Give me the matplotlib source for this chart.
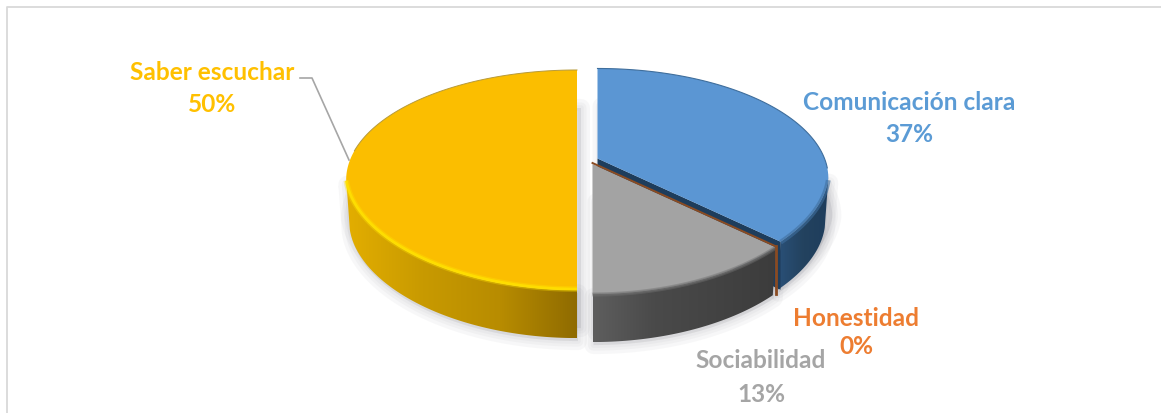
"""Exploded 3-D style pie of the most valued communication skills."""
import numpy as np
import matplotlib
matplotlib.use("Agg")
import matplotlib.pyplot as plt
from matplotlib.colors import LinearSegmentedColormap
from matplotlib.patches import Polygon

W, H = 1161, 413

categories = ["Comunicación clara", "Honestidad", "Sociabilidad", "Saber escuchar"]
shares = [37, 0, 13, 50]
colors = ["#5B9BD5", "#ED7D31", "#A5A5A5", "#FFC000"]

# projection of the tilted disc, in pixels
RX, RY, PERSP, DEPTH = 227.0, 106.4, 0.182, 48.0
TAPER = 0.063
APEX = {
    "Comunicación clara": (597.5, 158.5),
    "Honestidad": (592.5, 163.0),
    "Sociabilidad": (592.5, 164.0),
    "Saber escuchar": (577.0, 160.0),
}

stops = np.cumsum([0] + shares) * 3.6
span = {c: (stops[i], stops[i + 1]) for i, c in enumerate(categories)}


def rim(theta, apex, lower=False):
    t = np.radians(theta)
    u, v = np.sin(t), np.cos(t)
    w = 1 + PERSP * v
    scale = (0.985 if lower else 1.0) * (1 + TAPER * np.minimum(v + PERSP, 0))
    x = apex[0] + scale * RX * u / w
    y = apex[1] - RY * v / w + (DEPTH if lower else 0)
    return np.column_stack([x, y])


def top_face(cat):
    a, b = span[cat]
    arc = rim(np.linspace(a, b, 160), APEX[cat])
    return np.vstack([[APEX[cat]], arc])


def side_face(cat):
    # only the part of the rim that faces the viewer
    a, b = span[cat]
    th = np.linspace(a, b, 200)
    th = th[np.cos(np.radians(th)) <= -PERSP]
    up = rim(th, APEX[cat])
    low = rim(th, APEX[cat], lower=True)
    return np.vstack([up, low[::-1]]), th


def fill_side(ax, cat, shades, z):
    pts, _ = side_face(cat)
    cmap = LinearSegmentedColormap.from_list(cat, shades)
    x0, x1 = pts[:, 0].min(), pts[:, 0].max()
    y0, y1 = pts[:, 1].min(), pts[:, 1].max()
    im = ax.imshow(np.linspace(0, 1, 256)[None, :], extent=(x0, x1, y1, y0), cmap=cmap,
                   aspect="auto", interpolation="bilinear", zorder=z)
    im.set_clip_path(Polygon(pts, closed=True, transform=ax.transData))


def bevel(ax, cat, color, widths, z, shift=0.0):
    # soft edge where the top face turns into the side
    _, th = side_face(cat)
    arc = rim(th, APEX[cat]) + [0, shift]
    for lw, alpha in widths:
        ax.plot(arc[:, 0], arc[:, 1], color=color, lw=lw, alpha=alpha, zorder=z,
                solid_capstyle="butt")


fig = plt.figure(figsize=(W / 100, H / 100), dpi=100)
ax = fig.add_axes([0, 0, 1, 1])

# chart frame: left and top edges only
ax.plot([7, 7, W], [H, 7, 7], color="#D9D9D9", lw=1.3, zorder=1)

# drop shadow: stacked translucent strokes around each slice
for cat in ["Saber escuchar", "Comunicación clara", "Sociabilidad"]:
    pts = top_face(cat) + np.array([4, 38])
    side, _ = side_face(cat)
    for lw in (13, 8, 4):
        ax.add_patch(Polygon(pts, closed=True, fc="#9A9AA2", ec="#9A9AA2", lw=lw, alpha=0.07,
                             zorder=2, joinstyle="round"))
        ax.add_patch(Polygon(side + np.array([1, 3]), closed=True, fc="#9A9AA2", ec="#9A9AA2",
                             lw=lw, alpha=0.07, zorder=2, joinstyle="round"))

# Saber escuchar
fill_side(ax, "Saber escuchar", ["#E3AE00", "#C89A00", "#B88C00", "#8F6B00"], 3)
ax.add_patch(Polygon(top_face("Saber escuchar"), closed=True, fc="#FBBE00", ec="none", zorder=4))
bevel(ax, "Saber escuchar", "#FFE100", [(4.0, 0.35), (2.0, 0.85)], 4.2, shift=-1.0)
a, b = span["Saber escuchar"]
back = rim(np.linspace(a + 95, b, 80), APEX["Saber escuchar"])
ax.plot(back[:, 0], back[:, 1], color="#B79A3A", lw=0.7, zorder=4.5)

# Comunicación clara, with its cut face showing along the gap
fill_side(ax, "Comunicación clara", ["#2A5078", "#23425F", "#1E3D5C"], 5)
a, b = span["Comunicación clara"]
corner = rim(np.array([b]), APEX["Comunicación clara"])[0]
apex = np.array(APEX["Comunicación clara"])
ax.add_patch(Polygon([apex, corner, corner + [0, DEPTH], apex + [0, DEPTH]], closed=True,
                     fc="#1E3D5C", ec="none", zorder=5.5))
ax.add_patch(Polygon(top_face("Comunicación clara"), closed=True, fc="#5B96D3", ec="none",
                     zorder=6))
bevel(ax, "Comunicación clara", "#3F6F9F", [(3.5, 0.6)], 6.2, shift=0.5)
back = rim(np.linspace(a, 95, 80), APEX["Comunicación clara"])
ax.plot(back[:, 0], back[:, 1], color="#3F6E9C", lw=0.8, zorder=6.5)

# Sociabilidad
fill_side(ax, "Sociabilidad", ["#5E5E5E", "#4A4A4A", "#434343", "#3C3C3C"], 7)
ax.add_patch(Polygon(top_face("Sociabilidad"), closed=True, fc="#A3A3A3", ec="none", zorder=8))
bevel(ax, "Sociabilidad", "#6F6F6F", [(3.0, 0.45), (1.4, 0.6)], 8.5, shift=0.5)

# Honestidad has no width: only a thin seam between the neighbouring slices
seam = rim(np.array([span["Honestidad"][0]]), APEX["Honestidad"])[0]
h_apex = np.array(APEX["Honestidad"])
ax.plot([h_apex[0], seam[0]], [h_apex[1], seam[1]], color="#8A4B22", lw=1.4, zorder=9)
ax.plot([seam[0], seam[0]], [seam[1], seam[1] + DEPTH], color="#8A4B22", lw=2.0, zorder=9)

# leader line of the largest slice
ax.plot([300, 312, 349], [78, 78, 160], color="#A6A6A6", lw=1.2, zorder=3)

label_font = dict(family=["Lato", "DejaVu Sans"], fontweight="bold", fontsize=17.6,
                  ha="center", va="center", zorder=10)
label_pos = {
    "Comunicación clara": (909, 103, 134),
    "Honestidad": (856, 319, 347),
    "Sociabilidad": (761, 361, 394),
    "Saber escuchar": (212, 73, 105),
}
for cat, share, col in zip(categories, shares, colors):
    x, y1, y2 = label_pos[cat]
    ax.text(x, y1, cat, color=col, **label_font)
    ax.text(x, y2, f"{share}%", color=col, **label_font)

ax.set_xlim(0, W)
ax.set_ylim(H, 0)
ax.axis("off")
fig.savefig("out.png", dpi=100)
